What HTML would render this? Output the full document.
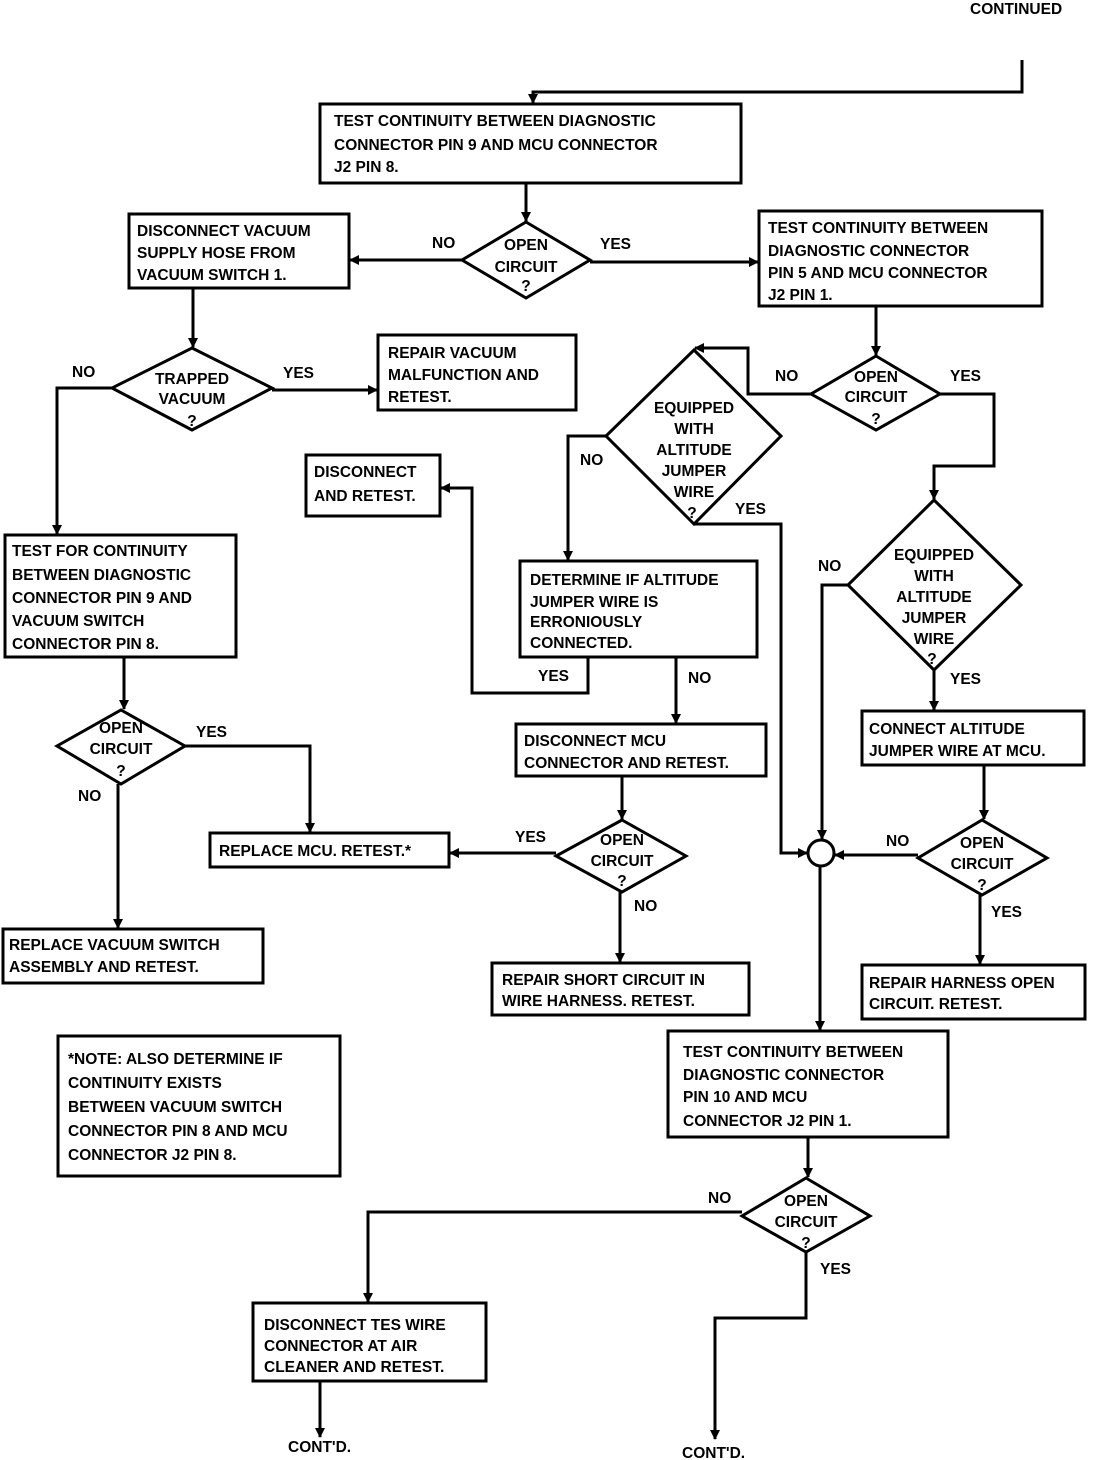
<!DOCTYPE html>
<html><head><meta charset="utf-8"><style>
html,body{margin:0;padding:0;background:#fff}
svg{display:block}
text{font-family:"Liberation Sans",Arial,sans-serif;font-weight:bold;font-size:15.5px;fill:#000}
.m{text-anchor:middle}
rect,polygon,circle{fill:#fff;stroke:#000;stroke-width:3}
path{fill:none;stroke:#000;stroke-width:3}
</style></head><body>
<svg width="1120" height="1460" viewBox="0 0 1120 1460" xmlns="http://www.w3.org/2000/svg">
<defs><marker id="a" markerWidth="10" markerHeight="10" refX="9" refY="5" orient="auto" markerUnits="userSpaceOnUse"><path d="M0,0 L10,5 L0,10 Z" style="fill:#000;stroke:none"/></marker></defs>
<text x="970" y="14" font-size="14">CONTINUED</text>

<!-- connectors -->
<path d="M1022,60 V92 H533 V103" marker-end="url(#a)"/>
<path d="M526,183 V221" marker-end="url(#a)"/>
<path d="M462,260 H350" marker-end="url(#a)"/>
<path d="M590,262 H758" marker-end="url(#a)"/>
<path d="M193,288 V347" marker-end="url(#a)"/>
<path d="M272,390 H377" marker-end="url(#a)"/>
<path d="M112,388 H57 V534" marker-end="url(#a)"/>
<path d="M876,306 V355" marker-end="url(#a)"/>
<path d="M811,394 H748 V348 H695" marker-end="url(#a)"/>
<path d="M940,394 H994 V466 H934 V499" marker-end="url(#a)"/>
<path d="M606,436 H568 V560" marker-end="url(#a)"/>
<path d="M694,524 H781 V853 H807" marker-end="url(#a)"/>
<path d="M588,657 V693 H472 V488 H441" marker-end="url(#a)"/>
<path d="M676,657 V723" marker-end="url(#a)"/>
<path d="M848,585 H822 V839" marker-end="url(#a)"/>
<path d="M934,670 V710" marker-end="url(#a)"/>
<path d="M124,657 V709" marker-end="url(#a)"/>
<path d="M185,746 H310 V832" marker-end="url(#a)"/>
<path d="M118,784 V928" marker-end="url(#a)"/>
<path d="M622,776 V819" marker-end="url(#a)"/>
<path d="M556,853 H450" marker-end="url(#a)"/>
<path d="M620,892 V962" marker-end="url(#a)"/>
<path d="M984,765 V819" marker-end="url(#a)"/>
<path d="M918,855 H835" marker-end="url(#a)"/>
<path d="M980,895 V964" marker-end="url(#a)"/>
<path d="M820,866 V1030" marker-end="url(#a)"/>
<path d="M808,1137 V1177" marker-end="url(#a)"/>
<path d="M742,1212 H368 V1302" marker-end="url(#a)"/>
<path d="M806,1252 V1318 H715 V1439" marker-end="url(#a)"/>
<path d="M320,1381 V1437" marker-end="url(#a)"/>

<!-- boxes -->
<rect x="320" y="104" width="421" height="79"/>
<text x="334" y="126">TEST CONTINUITY BETWEEN DIAGNOSTIC</text>
<text x="334" y="150">CONNECTOR PIN 9 AND MCU CONNECTOR</text>
<text x="334" y="172">J2 PIN 8.</text>

<rect x="129" y="214" width="220" height="74"/>
<text x="137" y="236">DISCONNECT VACUUM</text>
<text x="137" y="258">SUPPLY HOSE FROM</text>
<text x="137" y="280">VACUUM SWITCH 1.</text>

<rect x="759" y="211" width="283" height="95"/>
<text x="768" y="233">TEST CONTINUITY BETWEEN</text>
<text x="768" y="256">DIAGNOSTIC CONNECTOR</text>
<text x="768" y="278">PIN 5 AND MCU CONNECTOR</text>
<text x="768" y="300">J2 PIN 1.</text>

<rect x="378" y="335" width="198" height="75"/>
<text x="388" y="358">REPAIR VACUUM</text>
<text x="388" y="380">MALFUNCTION AND</text>
<text x="388" y="402">RETEST.</text>

<rect x="306" y="455" width="134" height="61"/>
<text x="314" y="477">DISCONNECT</text>
<text x="314" y="501">AND RETEST.</text>

<rect x="5" y="535" width="231" height="122"/>
<text x="12" y="556">TEST FOR CONTINUITY</text>
<text x="12" y="580">BETWEEN DIAGNOSTIC</text>
<text x="12" y="603">CONNECTOR PIN 9 AND</text>
<text x="12" y="626">VACUUM SWITCH</text>
<text x="12" y="649">CONNECTOR PIN 8.</text>

<rect x="520" y="561" width="237" height="96"/>
<text x="530" y="585">DETERMINE IF ALTITUDE</text>
<text x="530" y="607">JUMPER WIRE IS</text>
<text x="530" y="627">ERRONIOUSLY</text>
<text x="530" y="648">CONNECTED.</text>

<rect x="516" y="724" width="250" height="52"/>
<text x="524" y="746">DISCONNECT MCU</text>
<text x="524" y="768">CONNECTOR AND RETEST.</text>

<rect x="862" y="711" width="222" height="54"/>
<text x="869" y="734">CONNECT ALTITUDE</text>
<text x="869" y="756">JUMPER WIRE AT MCU.</text>

<rect x="210" y="833" width="239" height="34"/>
<text x="219" y="856">REPLACE MCU. RETEST.*</text>

<rect x="3" y="929" width="260" height="54"/>
<text x="9" y="950">REPLACE VACUUM SWITCH</text>
<text x="9" y="972">ASSEMBLY AND RETEST.</text>

<rect x="492" y="963" width="257" height="52"/>
<text x="502" y="985">REPAIR SHORT CIRCUIT IN</text>
<text x="502" y="1006">WIRE HARNESS. RETEST.</text>

<rect x="862" y="965" width="223" height="54"/>
<text x="869" y="988">REPAIR HARNESS OPEN</text>
<text x="869" y="1009">CIRCUIT. RETEST.</text>

<rect x="58" y="1036" width="282" height="140"/>
<text x="68" y="1064">*NOTE: ALSO DETERMINE IF</text>
<text x="68" y="1088">CONTINUITY EXISTS</text>
<text x="68" y="1112">BETWEEN VACUUM SWITCH</text>
<text x="68" y="1136">CONNECTOR PIN 8 AND MCU</text>
<text x="68" y="1160">CONNECTOR J2 PIN 8.</text>

<rect x="668" y="1031" width="280" height="106"/>
<text x="683" y="1057">TEST CONTINUITY BETWEEN</text>
<text x="683" y="1080">DIAGNOSTIC CONNECTOR</text>
<text x="683" y="1102">PIN 10 AND MCU</text>
<text x="683" y="1126">CONNECTOR J2 PIN 1.</text>

<rect x="253" y="1303" width="233" height="78"/>
<text x="264" y="1330">DISCONNECT TES WIRE</text>
<text x="264" y="1351">CONNECTOR AT AIR</text>
<text x="264" y="1372">CLEANER AND RETEST.</text>

<!-- diamonds -->
<polygon points="526,222 590,260 526,298 462,260"/>
<text class="m" x="526" y="250">OPEN</text><text class="m" x="526" y="272">CIRCUIT</text><text class="m" x="526" y="291">?</text>

<polygon points="192,348 272,388 192,430 112,388"/>
<text class="m" x="192" y="384">TRAPPED</text><text class="m" x="192" y="404">VACUUM</text><text class="m" x="192" y="426">?</text>

<polygon points="876,356 940,394 876,430 811,394"/>
<text class="m" x="876" y="382">OPEN</text><text class="m" x="876" y="402">CIRCUIT</text><text class="m" x="876" y="424">?</text>

<polygon points="694,350 781,436 694,524 606,436"/>
<text class="m" x="694" y="413">EQUIPPED</text><text class="m" x="694" y="434">WITH</text><text class="m" x="694" y="455">ALTITUDE</text><text class="m" x="694" y="476">JUMPER</text><text class="m" x="694" y="497">WIRE</text><text class="m" x="692" y="518">?</text>

<polygon points="934,500 1021,585 934,670 848,585"/>
<text class="m" x="934" y="560">EQUIPPED</text><text class="m" x="934" y="581">WITH</text><text class="m" x="934" y="602">ALTITUDE</text><text class="m" x="934" y="623">JUMPER</text><text class="m" x="934" y="644">WIRE</text><text class="m" x="932" y="664">?</text>

<polygon points="121,710 185,746 121,784 57,746"/>
<text class="m" x="121" y="733">OPEN</text><text class="m" x="121" y="754">CIRCUIT</text><text class="m" x="121" y="776">?</text>

<polygon points="622,820 686,856 622,892 556,856"/>
<text class="m" x="622" y="845">OPEN</text><text class="m" x="622" y="866">CIRCUIT</text><text class="m" x="622" y="886">?</text>

<polygon points="982,820 1047,858 982,895 918,858"/>
<text class="m" x="982" y="848">OPEN</text><text class="m" x="982" y="869">CIRCUIT</text><text class="m" x="982" y="890">?</text>

<polygon points="806,1178 870,1216 806,1252 742,1216"/>
<text class="m" x="806" y="1206">OPEN</text><text class="m" x="806" y="1227">CIRCUIT</text><text class="m" x="806" y="1248">?</text>

<circle cx="821" cy="853" r="13"/>

<!-- labels -->
<text x="432" y="248">NO</text>
<text x="600" y="249">YES</text>
<text x="283" y="378">YES</text>
<text x="72" y="377">NO</text>
<text x="775" y="381">NO</text>
<text x="950" y="381">YES</text>
<text x="580" y="465">NO</text>
<text x="735" y="514">YES</text>
<text x="818" y="571">NO</text>
<text x="538" y="681">YES</text>
<text x="688" y="683">NO</text>
<text x="950" y="684">YES</text>
<text x="196" y="737">YES</text>
<text x="78" y="801">NO</text>
<text x="515" y="842">YES</text>
<text x="886" y="846">NO</text>
<text x="634" y="911">NO</text>
<text x="991" y="917">YES</text>
<text x="708" y="1203">NO</text>
<text x="820" y="1274">YES</text>
<text x="288" y="1452">CONT'D.</text>
<text x="682" y="1458">CONT'D.</text>
</svg>
</body></html>
